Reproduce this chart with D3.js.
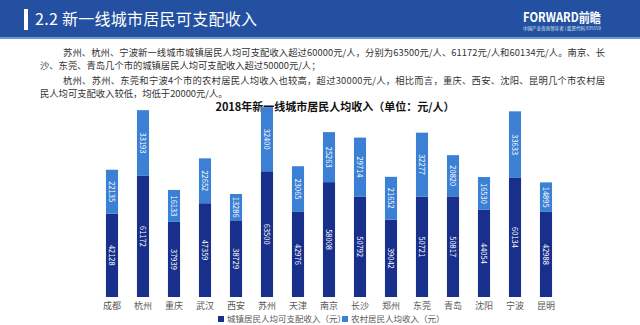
<!DOCTYPE html>
<html><head><meta charset="utf-8">
<script src="https://cdn.jsdelivr.net/npm/d3@7/dist/d3.min.js"></script>
<style>
html,body{margin:0;padding:0;background:#fff;}
svg{display:block;font-family:"Noto Sans CJK SC","Noto Sans",sans-serif;}
</style></head>
<body><div id="chart"></div>
<script>
const cities = ["成都","杭州","重庆","武汉","西安","苏州","天津","南京","长沙","郑州","东莞","青岛","沈阳","宁波","昆明"];
const urbanIncome = [42128,61172,37939,47359,38729,63500,42976,58008,50792,39042,50721,50817,44054,60134,42988];
const ruralIncome = [22135,33193,16133,22652,13286,32400,23065,25263,29714,21652,32277,20820,16530,33633,14895];
const seriesNames = ["城镇居民人均可支配收入（元）","农村居民人均收入（元）"];
const seriesColors = ["#192f8c","#3b80d4"];
const chartTitle = "2018年新一线城市居民人均收入（单位：元/人）";
const headerTitle = "2.2  新一线城市居民可支配收入";
const paragraphLines = [
  "苏州、杭州、宁波新一线城市城镇居民人均可支配收入超过60000元/人，分别为63500元/人、61172元/人和60134元/人。南京、长",
  "沙、东莞、青岛几个市的城镇居民人均可支配收入超过50000元/人；",
  "杭州、苏州、东莞和宁波4个市的农村居民人均收入也较高，超过30000元/人，相比而言，重庆、西安、沈阳、昆明几个市农村居",
  "民人均可支配收入较低，均低于20000元/人。"
];

const W = 640, H = 325;
const svg = d3.select("#chart").append("svg").attr("width", W).attr("height", H);

// header
svg.append("rect").attr("x",0).attr("y",0).attr("width",W).attr("height",38).attr("fill","#2350a0");
svg.append("rect").attr("x",0).attr("y",37).attr("width",W).attr("height",2).attr("fill","#6f97d6");
svg.append("rect").attr("x",24).attr("y",9).attr("width",4).attr("height",21).attr("fill","#fff");
svg.append("text").attr("x",35).attr("y",25).attr("fill","#fff").attr("font-size",16)
  .attr("textLength",222).attr("lengthAdjust","spacing").text(headerTitle);
svg.append("text").attr("x",523).attr("y",22).attr("fill","#fff").attr("font-size",13).attr("font-weight","bold")
  .attr("textLength",78).attr("lengthAdjust","spacingAndGlyphs").text("FORWARD前瞻");
svg.append("text").attr("x",523).attr("y",30).attr("fill","#dfe8f7").attr("font-size",4.2)
  .attr("textLength",78).attr("lengthAdjust","spacingAndGlyphs").text("中国产业咨询领导者 | 股票代码 835559");

// paragraph
const paraY = [52,65,80,93];
const paraX = [63,40,63,40];
const paraLen = [542,null,542,null];
paragraphLines.forEach((t,i)=>{
  const el = svg.append("text").attr("x",paraX[i]).attr("y",paraY[i]+3.5).attr("fill","#333")
    .attr("font-size",9.3).text(t);
  if (paraLen[i]) el.attr("textLength",paraLen[i]).attr("lengthAdjust","spacing");
});

// chart title
svg.append("text").attr("x",335).attr("y",111).attr("text-anchor","middle").attr("font-size",11)
  .attr("font-weight","bold").attr("fill","#111").text(chartTitle);

// scales
const x = d3.scaleBand().domain(cities).range([96.5,561.5]).paddingInner(0.61).paddingOuter(0.305);
const y = d3.scaleLinear().domain([0,100000]).range([297,99]);

const data = cities.map((c,i)=>({city:c, urban:urbanIncome[i], rural:ruralIncome[i]}));
const stack = d3.stack().keys(["urban","rural"])(data);

const g = svg.append("g");
stack.forEach((layer,li)=>{
  g.selectAll(null).data(layer).enter().append("rect")
    .attr("x",d=>x(d.data.city)).attr("width",x.bandwidth())
    .attr("y",d=>y(d[1])).attr("height",d=>y(d[0])-y(d[1]))
    .attr("fill",seriesColors[li]);
  g.selectAll(null).data(layer).enter().append("text")
    .attr("transform",d=>`translate(${x(d.data.city)+x.bandwidth()/2},${(y(d[0])+y(d[1]))/2}) rotate(90)`)
    .attr("text-anchor","middle").attr("dy","0.35em").attr("fill","#fff").attr("font-size",7.5)
    .text(d=>d[1]-d[0]);
});

// x axis labels
const xAxis = d3.axisBottom(x).tickSize(0).tickPadding(6);
const ax = svg.append("g").attr("transform","translate(0,297)").call(xAxis);
ax.select(".domain").remove();
ax.selectAll("text").attr("font-size",9).attr("fill","#595959").attr("font-family","Noto Sans CJK SC");

// legend
const legX = [218,342];
seriesNames.forEach((n,i)=>{
  svg.append("rect").attr("x",legX[i]).attr("y",316).attr("width",6).attr("height",6).attr("fill",seriesColors[i]);
  svg.append("text").attr("x",legX[i]+9).attr("y",322).attr("font-size",8.5).attr("fill","#595959").text(n);
});
</script></body></html>
